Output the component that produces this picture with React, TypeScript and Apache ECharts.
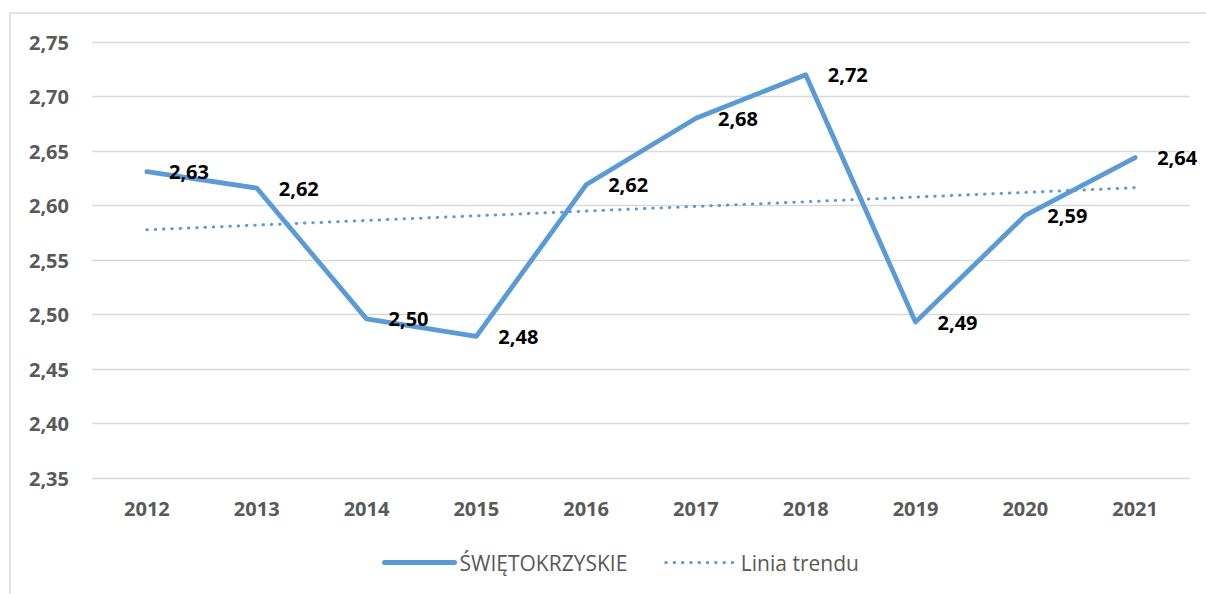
import React, { useEffect, useRef } from "react";
import * as echarts from "echarts";

const years = ["2012", "2013", "2014", "2015", "2016", "2017", "2018", "2019", "2020", "2021"];
const values = [2.631, 2.616, 2.496, 2.48, 2.619, 2.68, 2.72, 2.493, 2.591, 2.644];
const seriesName = "ŚWIĘTOKRZYSKIE";
const trendName = "Linia trendu";
const yMin = 2.35;
const yMax = 2.75;
const yStep = 0.05;

function linearTrend(v: number[]): number[] {
  const n = v.length;
  const xs = v.map((_, i) => i);
  const mx = xs.reduce((a, b) => a + b, 0) / n;
  const my = v.reduce((a, b) => a + b, 0) / n;
  let num = 0;
  let den = 0;
  for (let i = 0; i < n; i++) {
    num += (xs[i] - mx) * (v[i] - my);
    den += (xs[i] - mx) * (xs[i] - mx);
  }
  const slope = num / den;
  return xs.map((x) => my + slope * (x - mx));
}

const fmt = (v: number) => v.toFixed(2).replace(".", ",");

export default function App() {
  const ref = useRef<HTMLDivElement>(null);
  useEffect(() => {
    if (!ref.current) return;
    const chart = echarts.init(ref.current, undefined, { renderer: "svg" });
    const font = "Open Sans";
    const blue = "#5B9BD5";
    chart.setOption({
      animation: false,
      backgroundColor: "#ffffff",
      textStyle: { fontFamily: font },
      graphic: [
        {
          type: "rect",
          shape: { x: 10, y: 13, width: 1220, height: 620 },
          style: { fill: "none", stroke: "#D9D9D9", lineWidth: 1.5 },
          silent: true,
          z: -1,
        },
      ],
      grid: { left: 92, right: 16, top: 42, bottom: 116 },
      xAxis: {
        type: "category",
        data: years,
        boundaryGap: true,
        axisLine: { show: false },
        axisTick: { show: false },
        axisLabel: {
          color: "#595959",
          fontWeight: "bold",
          fontSize: 20,
          fontFamily: font,
          margin: 20,
        },
      },
      yAxis: {
        type: "value",
        min: yMin,
        max: yMax,
        interval: yStep,
        axisLine: { show: false },
        axisTick: { show: false },
        splitLine: { lineStyle: { color: "#D9D9D9", width: 1.3 } },
        axisLabel: {
          color: "#595959",
          fontWeight: "bold",
          fontSize: 20,
          fontFamily: font,
          margin: 23,
          formatter: (v: number) => fmt(v),
        },
      },
      legend: {
        bottom: 16,
        left: 377,
        itemWidth: 70,
        itemHeight: 14,
        itemGap: 37,
        itemStyle: { opacity: 0 },
        textStyle: { color: "#595959", fontSize: 21, fontFamily: font },
        data: [
          { name: seriesName, lineStyle: { width: 5, color: blue, cap: "round" } },
          { name: trendName, lineStyle: { width: 3, color: blue, type: [0.5, 7.8], cap: "round" } },
        ],
      },
      series: [
        {
          name: seriesName,
          type: "line",
          data: values,
          symbol: "circle",
          symbolSize: 0.1,
          showSymbol: true,
          lineStyle: { color: blue, width: 4.8, cap: "round", join: "round" },
          itemStyle: { color: blue },
          label: {
            show: true,
            position: "right",
            distance: 22,
            color: "#000000",
            fontWeight: "bold",
            fontSize: 20,
            fontFamily: font,
            formatter: (p: any) => fmt(p.value),
          },
          z: 3,
        },
        {
          name: trendName,
          type: "line",
          data: linearTrend(values),
          symbol: "none",
          showSymbol: false,
          lineStyle: { color: blue, width: 3, type: [0.5, 7.8], cap: "round" },
          itemStyle: { color: blue },
          z: 2,
        },
      ],
    });
    return () => chart.dispose();
  }, []);
  return <div ref={ref} style={{ position: "fixed", left: 0, top: 0, width: 1206, height: 594 }} />;
}
